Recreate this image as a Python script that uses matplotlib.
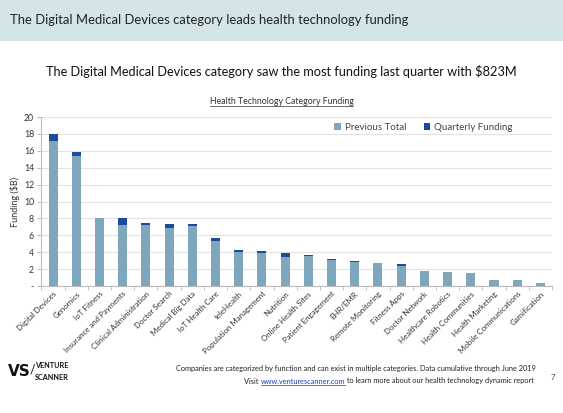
import matplotlib
matplotlib.use("Agg")
import matplotlib.pyplot as plt
from matplotlib.patches import Rectangle
from matplotlib.lines import Line2D
import numpy as np

categories = ["Digital Devices", "Genomics", "IoT Fitness", "Insurance and Payments",
              "Clinical Administration", "Doctor Search", "Medical Big Data", "IoT Health Care",
              "teleHealth", "Population Management", "Nutrition", "Online Health Sites",
              "Patient Engagement", "EHR/EMR", "Remote Monitoring", "Fitness Apps",
              "Doctor Network", "Healthcare Robotics", "Health Communities", "Health Marketing",
              "Mobile Communications", "Gamification"]
previous_total = [17.15, 15.4, 8.02, 7.27, 7.18, 6.9, 7.08, 5.37, 3.98, 3.87, 3.45, 3.58,
                  3.03, 2.87, 2.7, 2.32, 1.76, 1.64, 1.5, 0.66, 0.66, 0.35]
quarterly_funding = [0.823, 0.4, 0.04, 0.8, 0.3, 0.42, 0.2, 0.3, 0.27, 0.3, 0.4, 0.04,
                     0.12, 0.08, 0.03, 0.3, 0.01, 0.01, 0.01, 0.05, 0.05, 0.0]
yticks = [0, 2, 4, 6, 8, 10, 12, 14, 16, 18, 20]
ytick_labels = ["-", "2", "4", "6", "8", "10", "12", "14", "16", "18", "20"]

FONT = "Lato"
plt.rcParams["font.family"] = [FONT, "DejaVu Sans"]

W, H = 563, 413
fig = plt.figure(figsize=(W / 100, H / 100), dpi=100)

# header band
fig.patches.append(Rectangle((0, 1 - 41 / H), 1, 41 / H, transform=fig.transFigure,
                             facecolor="#d3e5e7", edgecolor="none", zorder=0))
fig.text(10 / W, 1 - 20 / H, "The Digital Medical Devices category leads health technology funding",
         fontsize=9.4, color="#222222", va="center", ha="left")
fig.text(0.5, 1 - 72 / H, "The Digital Medical Devices category saw the most funding last quarter with $823M",
         fontsize=9.2, color="#111111", va="center", ha="center")
ct = fig.text(0.5, 1 - 101 / H, "Health Technology Category Funding",
              fontsize=6.3, color="#333333", va="center", ha="center")

ax = fig.add_axes([41 / W, 1 - 286 / H, (552 - 41) / W, (286 - 117) / H])
x = np.arange(len(categories))
bw = 0.39
ax.bar(x, previous_total, width=bw, color="#7ea6bd", label="Previous Total", zorder=3)
ax.bar(x, quarterly_funding, width=bw, bottom=previous_total, color="#1a4b9e",
       label="Quarterly Funding", zorder=3)
ax.set_xlim(-0.52, len(categories) - 0.5)
ax.set_ylim(0, 20)
ax.set_yticks(yticks)
ax.set_yticklabels(ytick_labels, fontsize=6.3, color="#333333")
ax.yaxis.grid(True, color="#e3e3e3", linewidth=0.8, zorder=0)
ax.set_axisbelow(True)
for s in ["top", "right"]:
    ax.spines[s].set_visible(False)
ax.spines["left"].set_color("#bbbbbb")
ax.spines["bottom"].set_color("#bbbbbb")
ax.tick_params(axis="y", length=3, color="#bbbbbb", pad=2)
ax.set_xticks(x)
ax.set_xticklabels(categories, rotation=45, ha="right", rotation_mode="anchor",
                   fontsize=5.7, color="#333333")
ax.tick_params(axis="x", length=0, pad=3)
ax.set_xticks(np.arange(len(categories) + 1) - 0.5, minor=True)
ax.tick_params(axis="x", which="minor", length=3, color="#bbbbbb")
ax.set_ylabel("Funding ($B)", fontsize=6.5, color="#333333", labelpad=3)
ax.legend(loc="upper right", ncol=2, frameon=False, fontsize=7, handlelength=0.7,
          handleheight=0.7, columnspacing=1.8, handletextpad=0.4,
          bbox_to_anchor=(0.94, 1.015), labelcolor="#444444")

# logo
fig.text(8 / W, 1 - 372 / H, "VS", fontsize=11, fontweight="bold", color="#111111",
         va="center", ha="left", family=["DejaVu Sans"])
fig.text(30 / W, 1 - 370 / H, "/", fontsize=9, color="#111111", va="center", ha="left")
fig.text(35 / W, 1 - 365 / H, "VENTURE", fontsize=5.2, fontweight="bold", color="#111111",
         va="center", ha="left")
fig.text(35 / W, 1 - 377 / H, "SCANNER", fontsize=5.2, fontweight="bold", color="#111111",
         va="center", ha="left")

fig.text(536 / W, 1 - 368 / H,
         "Companies are categorized by function and can exist in multiple categories. Data cumulative through June 2019",
         fontsize=5.35, color="#222222", va="center", ha="right")
fig.text(553 / W, 1 - 378 / H, "7", fontsize=5.5, color="#444444", va="center", ha="center")

# second footer line with link
fig.canvas.draw()
r = fig.canvas.get_renderer()
parts = [("Visit ", "#222222"), ("www.venturescanner.com", "#1a3fbf"),
         (" to learn more about our health technology dynamic report", "#222222")]
texts = []
for s, c in parts:
    t = fig.text(0, 1 - 381 / H, s, fontsize=5.35, color=c, va="center", ha="left")
    texts.append(t)
widths = [t.get_window_extent(r).width for t in texts]
total = sum(widths)
xr = 534
xstart = xr - total
cur = xstart
for t, w in zip(texts, widths):
    t.set_x(cur / W)
    cur += w
# underline link
lx0 = xstart + widths[0]
lx1 = lx0 + widths[1]
fig.lines.append(Line2D([lx0 / W, lx1 / W], [1 - 384.5 / H, 1 - 384.5 / H], transform=fig.transFigure,
                        color="#1a3fbf", linewidth=0.5))
# underline chart title
bb = ct.get_window_extent(r)
fig.lines.append(Line2D([bb.x0 / W, bb.x1 / W], [(bb.y0 - 0.5) / H, (bb.y0 - 0.5) / H],
                        transform=fig.transFigure, color="#333333", linewidth=0.5))

fig.savefig("out.png", dpi=100)
